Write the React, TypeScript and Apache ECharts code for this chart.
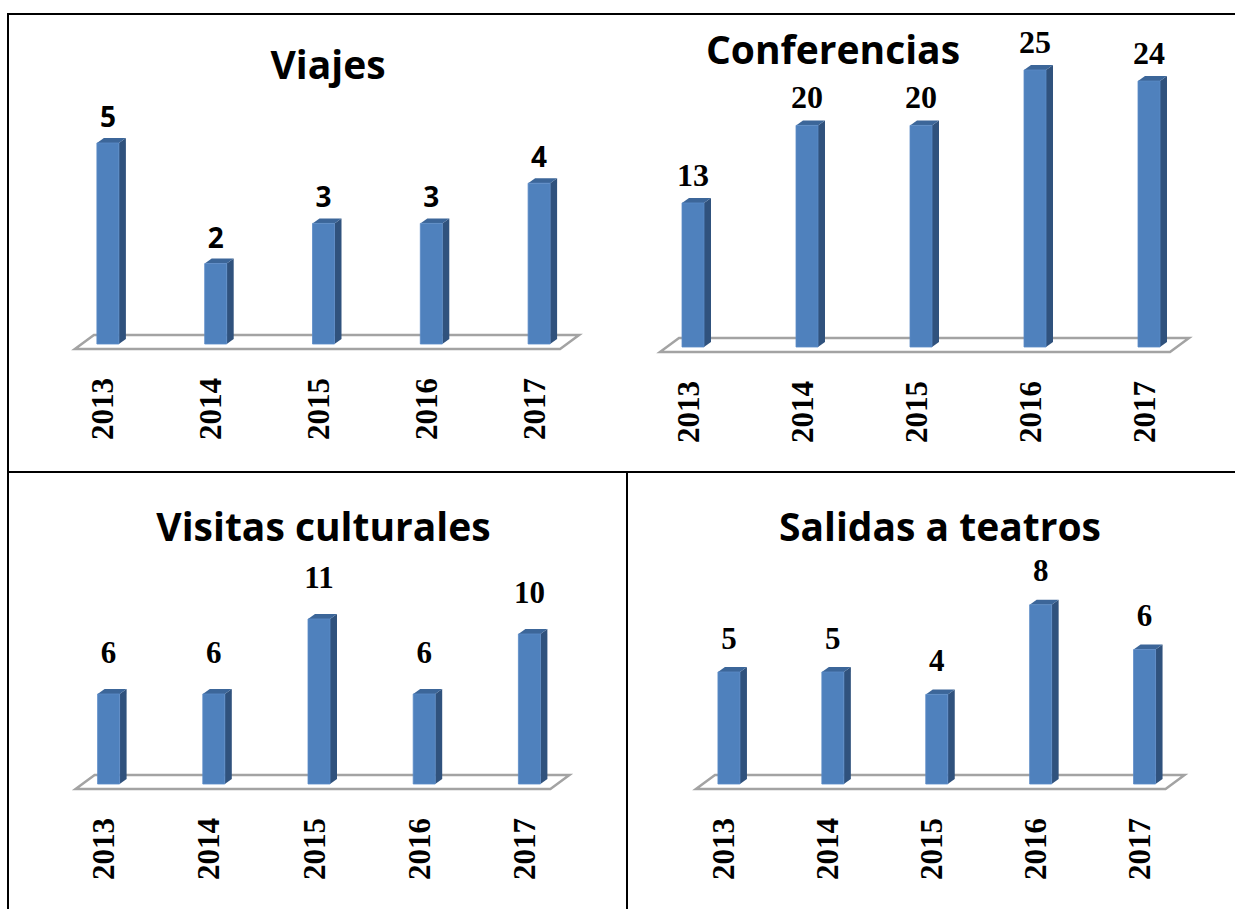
import React, { useEffect, useRef } from "react";
import * as echarts from "echarts";

// ---- data ----
const years = ["2013", "2014", "2015", "2016", "2017"];
const viajes = [5, 2, 3, 3, 4];
const conferencias = [13, 20, 20, 25, 24];
const visitas = [6, 6, 11, 6, 10];
const salidas = [5, 5, 4, 8, 6];
const titles = ["Viajes", "Conferencias", "Visitas culturales", "Salidas a teatros"];
const yMax = [6, 30, 12, 9];

const seriesValues = [viajes, conferencias, visitas, salidas];

// ---- layout (pixels) ----
const grids = [
  { left: 49, width: 539, top: 102.8, height: 241.2 },
  { left: 631, width: 570, top: 14.6, height: 332.4 },
  { left: 51, width: 526, top: 604, height: 180 },
  { left: 672, width: 519.5, top: 582.4, height: 201.6 },
];
const titlePos = [
  [328, 63],
  [833, 48],
  [323.5, 525],
  [940, 525],
];
const labelDist = [27, 28, 42, 34];
const labelFonts = [
  { fontFamily: "Open Sans", fontSize: 28 },
  { fontFamily: "Liberation Serif", fontSize: 32 },
  { fontFamily: "Liberation Serif", fontSize: 31 },
  { fontFamily: "Liberation Serif", fontSize: 31 },
];

const BAR_W = 22;
const BAR_SHIFT = 5;
const DX = 7;
const DY = 5;
const FRONT = "#4f81bd";
const SIDE = "#30527d";
const TOP = "#3c6699";

function floorRender(params: any) {
  const cs = params.coordSys;
  const band = cs.width / years.length;
  const c0 = cs.x + band / 2;
  const c4 = cs.x + cs.width - band / 2;
  const base = cs.y + cs.height;
  return {
    type: "polygon",
    shape: {
      points: [
        [c0 - 28, base + 5],
        [c4 + 26, base + 5],
        [c4 + 45, base - 9],
        [c0 - 9, base - 9],
      ],
    },
    style: { fill: "#ffffff", stroke: "#a3a3a3", lineWidth: 2.5 },
  };
}

function makeBarRender(panel: number) {
  return function (params: any, api: any) {
    const idx = api.value(0);
    const v = api.value(1);
    const top = api.coord([idx, v]);
    const bottom = api.coord([idx, 0]);
    const cx = top[0] + BAR_SHIFT;
    const x0 = cx - BAR_W / 2;
    const x1 = x0 + BAR_W;
    const ty = top[1];
    const by = bottom[1];
    const lf = labelFonts[panel];
    return {
      type: "group",
      children: [
        {
          type: "polygon",
          shape: { points: [[x1, ty], [x1 + DX, ty - DY], [x1 + DX, by - DY], [x1, by]] },
          style: { fill: SIDE },
        },
        {
          type: "polygon",
          shape: { points: [[x0, ty], [x0 + DX, ty - DY], [x1 + DX, ty - DY], [x1, ty]] },
          style: { fill: TOP },
        },
        {
          type: "rect",
          shape: { x: x0, y: ty, width: BAR_W, height: by - ty },
          style: { fill: FRONT, stroke: "#5a8ac6", lineWidth: 0.8 },
        },
        {
          type: "text",
          x: cx,
          y: ty - labelDist[panel],
          style: {
            text: String(v),
            align: "center",
            verticalAlign: "middle",
            fontFamily: lf.fontFamily,
            fontSize: lf.fontSize,
            fontWeight: "bold",
            fill: "#000",
          },
        },
      ],
    };
  };
}

export default function App() {
  const ref = useRef<HTMLDivElement>(null);
  useEffect(() => {
    if (!ref.current) return;
    const chart = echarts.init(ref.current, undefined, { renderer: "svg" });
    const option: any = {
      animation: false,
      backgroundColor: "#ffffff",
      grid: grids.map((g) => ({ ...g, containLabel: false })),
      xAxis: grids.map((_, i) => ({
        type: "category",
        gridIndex: i,
        data: years,
        axisLine: { show: false },
        axisTick: { show: false },
        splitLine: { show: false },
        axisLabel: {
          rotate: 90,
          margin: 34,
          interval: 0,
          fontFamily: "Liberation Serif",
          fontWeight: "bold",
          fontSize: 31,
          color: "#000",
        },
      })),
      yAxis: grids.map((_, i) => ({
        type: "value",
        gridIndex: i,
        min: 0,
        max: yMax[i],
        show: false,
        splitLine: { show: false },
      })),
      series: [
        ...grids.map((_, i) => ({
          type: "custom",
          xAxisIndex: i,
          yAxisIndex: i,
          clip: false,
          silent: true,
          z: 1,
          data: [[0, 0]],
          renderItem: floorRender,
        })),
        ...grids.map((_, i) => ({
          type: "custom",
          xAxisIndex: i,
          yAxisIndex: i,
          clip: false,
          z: 2,
          encode: { x: 0, y: 1 },
          data: seriesValues[i].map((v, k) => [k, v]),
          renderItem: makeBarRender(i),
        })),
      ],
      graphic: [
        ...titles.map((t, i) => ({
          type: "text",
          x: titlePos[i][0],
          y: titlePos[i][1],
          style: {
            text: t,
            align: "center",
            verticalAlign: "middle",
            fontFamily: "Open Sans",
            fontWeight: "bold",
            fontSize: 39,
            fill: "#000",
          },
        })),
        { type: "line", shape: { x1: 7, y1: 14, x2: 1235, y2: 14 }, style: { stroke: "#000", lineWidth: 2 } },
        { type: "line", shape: { x1: 8, y1: 13, x2: 8, y2: 909 }, style: { stroke: "#000", lineWidth: 2 } },
        { type: "line", shape: { x1: 7, y1: 472, x2: 1235, y2: 472 }, style: { stroke: "#000", lineWidth: 2 } },
        { type: "line", shape: { x1: 627, y1: 472, x2: 627, y2: 909 }, style: { stroke: "#000", lineWidth: 2 } },
      ],
    };
    chart.setOption(option);
    return () => chart.dispose();
  }, []);
  return (
    <div
      ref={ref}
      style={{ position: "fixed", left: 0, top: 0, width: 1235, height: 909, background: "#fff" }}
    />
  );
}
